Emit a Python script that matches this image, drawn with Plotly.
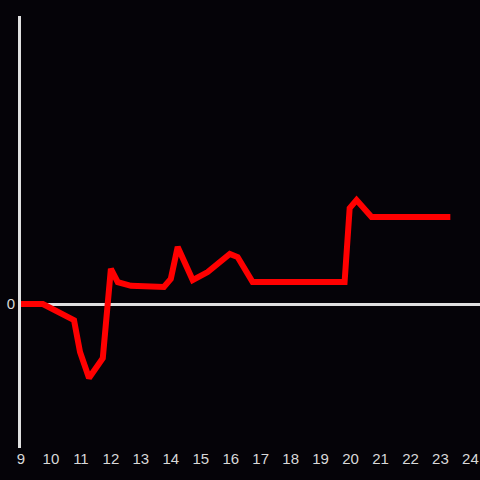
import plotly.graph_objects as go

hours = [9, 9.73, 10.77, 10.97, 11.27, 11.73, 12.0, 12.23, 12.67, 13.33, 13.77, 14.0,
         14.23, 14.73, 15.23, 15.97, 16.23, 16.73, 19.8, 19.97, 20.2, 20.7, 23.33]
values = [0, 0, -5.6, -16.7, -25.7, -18.8, 12.2, 7.6, 6.3, 6.3, 5.9, 8.7,
          19.8, 8.3, 11.1, 17.4, 16.3, 7.6, 7.6, 33.3, 36.1, 30.2, 30.2]
x_ticks = list(range(9, 25))
y_ticks = [0]

fig = go.Figure(go.Scatter(x=hours, y=values, mode="lines",
                           line=dict(color="#ff0000", width=6)))
fig.update_layout(
    width=480, height=480,
    margin=dict(l=21, r=0, t=16, b=32),
    paper_bgcolor="#050308", plot_bgcolor="#050308",
    showlegend=False,
    font=dict(family="Liberation Sans, Arial, sans-serif", size=15, color="#d8d8d8"),
)
fig.update_xaxes(range=[9, 24.32], tickvals=x_ticks, ticktext=[str(t) for t in x_ticks],
                 showgrid=False, zeroline=False, showline=False, ticks="")
fig.update_yaxes(range=[-50, 100], tickvals=y_ticks, ticktext=["0"],
                 showgrid=False, zeroline=True, zerolinecolor="#e0e0e0", zerolinewidth=3,
                 showline=True, linecolor="#e0e0e0", linewidth=3, ticks="", ticklabelstandoff=0)
fig.write_html("out.html", config={"displayModeBar": False},
               post_script="document.body.style.margin='0';document.body.style.background='#050308';")
